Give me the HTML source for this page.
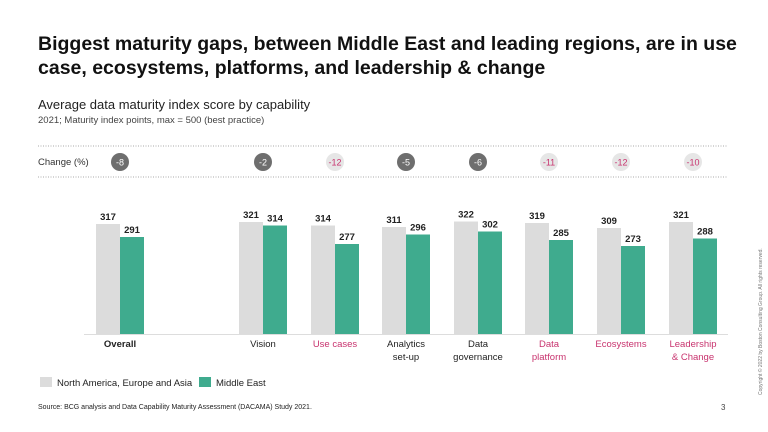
<!DOCTYPE html>
<html><head><meta charset="utf-8"><style>
body{margin:0;width:768px;height:432px;background:#fff;font-family:"Liberation Sans",sans-serif;overflow:hidden;position:relative}
.t{position:absolute;white-space:nowrap}
</style></head><body>
<div class="t" style="left:38px;top:32px;font-size:19.5px;font-weight:bold;color:#111;line-height:24px">Biggest maturity gaps, between Middle East and leading regions, are in use<br>case, ecosystems, platforms, and leadership &amp; change</div>
<div class="t" style="left:38px;top:97px;font-size:13px;color:#222">Average data maturity index score by capability</div>
<div class="t" style="left:38px;top:115px;font-size:9.5px;color:#444">2021; Maturity index points, max = 500 (best practice)</div>
<div class="t" style="left:38px;top:404px;font-size:7px;color:#222">Source: BCG analysis and Data Capability Maturity Assessment (DACAMA) Study 2021.</div>
<div class="t" style="left:721px;top:403px;font-size:8px;color:#444">3</div>
<div class="t" style="left:758px;top:395px;font-size:5px;color:#777;transform:rotate(-90deg);transform-origin:0 0">Copyright © 2022 by Boston Consulting Group. All rights reserved.</div>
<svg id="chart" width="768" height="432" style="position:absolute;left:0;top:0"></svg>
<script>
const categories=["Overall","Vision","Use cases","Analytics|set-up","Data|governance","Data|platform","Ecosystems","Leadership|& Change"];
const leaderValues=[317,321,314,311,322,319,309,321];
const meValues=[291,314,277,296,302,285,273,288];
const changeValues=[-8,-2,-12,-5,-6,-11,-12,-10];
const highlighted=[false,false,true,false,false,true,true,true];
const svg=document.getElementById('chart');
const NS='http://www.w3.org/2000/svg';
const centers=[120,263,335,406,478,549,621,693];
const base=334, v0=97, k=0.5, bw=24;
function y(v){return base-k*(v-v0);}
function mk(t,a,p){const e=document.createElementNS(NS,t);for(const q in a)e.setAttribute(q,a[q]);(p||svg).appendChild(e);return e;}
let l=mk('line',{x1:38,x2:728,y1:146,y2:146,stroke:'#aaa','stroke-dasharray':'1 1.5','stroke-width':1});

l=mk('line',{x1:38,x2:728,y1:177,y2:177,stroke:'#aaa','stroke-dasharray':'1 1.5','stroke-width':1});

let ct=mk('text',{x:38,y:165,'font-size':9.5,fill:'#333'});ct.textContent='Change (%)';

let ax=mk('line',{x1:84,x2:728,y1:base+0.5,y2:base+0.5,stroke:'#ddd','stroke-width':1});

categories.forEach((c,i)=>{
  const cx=centers[i];
  const r1=mk('rect',{x:cx-bw,y:y(leaderValues[i]),width:bw,height:base-y(leaderValues[i]),fill:'#dcdcdc'});
  
  const r2=mk('rect',{x:cx,y:y(meValues[i]),width:bw,height:base-y(meValues[i]),fill:'#3fab8e'});
  
  const t1=mk('text',{x:cx-bw/2,y:y(leaderValues[i])-4,'font-size':9.5,'font-weight':'bold','text-anchor':'middle',fill:'#222'});t1.textContent=leaderValues[i];
  
  const t2=mk('text',{x:cx+bw/2,y:y(meValues[i])-4,'font-size':9.5,'font-weight':'bold','text-anchor':'middle',fill:'#222'});t2.textContent=meValues[i];
  
  const circ=mk('circle',{cx:cx,cy:162,r:9,fill:highlighted[i]?'#e6e6e6':'#6e6e6e'});
  
  const ctx=mk('text',{x:cx,y:165.5,'font-size':9,'text-anchor':'middle',fill:highlighted[i]?'#c8336e':'#fff'});ctx.textContent=changeValues[i];
  
  c.split('|').forEach((ln,j)=>{
    const lt=mk('text',{x:cx,y:347+j*13,'font-size':9.5,'text-anchor':'middle',fill:highlighted[i]?'#c8336e':'#222','font-weight':i==0?'bold':'normal'});lt.textContent=ln;
    
  });
});
let lg=mk('rect',{x:40,y:377,width:12,height:10,fill:'#dcdcdc'});
let lt=mk('text',{x:57,y:386,'font-size':9.5,fill:'#222'});lt.textContent='North America, Europe and Asia';
lg=mk('rect',{x:199,y:377,width:12,height:10,fill:'#3fab8e'});
lt=mk('text',{x:216,y:386,'font-size':9.5,fill:'#222'});lt.textContent='Middle East';
</script>
</body></html>
